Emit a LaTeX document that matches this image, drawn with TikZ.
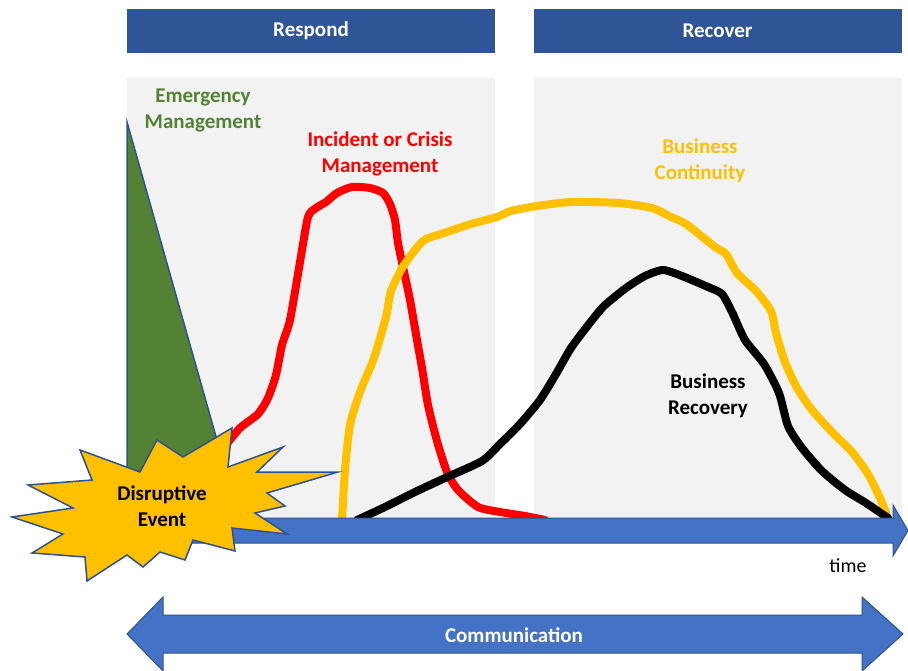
\documentclass[tikz,border=0pt]{standalone}
\usepackage{fontspec}
\setmainfont{Carlito}
\usetikzlibrary{positioning}

\definecolor{hdrblue}{HTML}{2F5597}
\definecolor{arrblue}{HTML}{4472C4}
\definecolor{edgeblue}{HTML}{2F528F}
\definecolor{panelgray}{HTML}{F2F2F2}
\definecolor{emgreen}{HTML}{548235}
\definecolor{bcyellow}{HTML}{FFC000}

\begin{document}
\begin{tikzpicture}
  [x=1pt,y=-1pt,every node/.style={font=\fontsize{21}{26}\selectfont\bfseries,align=center}]

  \tikzstyle{header} = [fill=hdrblue,text=white,minimum width=368pt,minimum height=44pt,inner sep=0pt]
  \tikzstyle{panel}  = [fill=panelgray,minimum width=368pt,minimum height=440pt,inner sep=0pt]
  \tikzstyle{curve}  = [line width=8pt,line join=round,line cap=round]
  \tikzstyle{arrow}  = [fill=arrblue,draw=edgeblue,line width=1pt,line join=miter]

  \useasboundingbox (0,0) rectangle (908,671);

  % phases
  \node[header] (respond) at (311,31) {Respond};
  \node[header] (recover) at (717.5,31) {Recover};
  \node[panel,below=25pt of respond] (respondbg) {};
  \node[panel,below=25pt of recover] (recoverbg) {};

  % emergency management
  \draw[fill=emgreen,draw=edgeblue,line width=1.5pt]
        (127,122) -- (239,518) -- (127,518) -- cycle;

  % the curves
  \draw[curve,red] plot[smooth,tension=0.4] coordinates {
        (226,445) (240,428) (258,414) (268,398) (276,375) (282,345)
        (290,320) (300,262) (308,217) (316,208) (326,202) (337,193)
        (352,187) (370,188) (383,193) (390,204) (395,220) (398,243)
        (403,267) (410,300) (417,340) (422,368) (428,405) (437,441)
        (447,472) (458,490) (478,507) (500,512) (525,516) (545,520)};
  \draw[curve,bcyellow] plot[smooth,tension=0.4] coordinates {
        (342,520) (345,470) (350,425) (360,392) (374,358) (386,317)
        (391,291) (404,265) (423,241) (441,234) (471,224) (497,217)
        (511,211) (537,206) (571,202) (619,203) (652,208) (671,217)
        (686,224) (715,247) (726,254) (737,273) (756,291) (771,311)
        (776,333) (785,362) (797,388) (812,410) (832,432) (852,452)
        (868,474) (880,498) (888,518)};
  \draw[curve,black] plot[smooth,tension=0.4] coordinates {
        (357,520) (385,507) (415,492) (445,478) (482,461) (500,444)
        (520,424) (540,400) (556,374) (571,348) (589,324) (604,306)
        (626,288) (645,276) (663,270) (682,276) (708,287) (722,294)
        (732,312) (745,340) (764,364) (779,393) (788,426) (802,448)
        (822,471) (845,490) (866,503) (888,518)};

  % time axis
  \draw[arrow] (150,518) -- (893,518) -- (893,505) -- (908,530.5)
        -- (893,556) -- (893,543) -- (150,543) -- cycle;

  % disruptive event
  \draw[fill=bcyellow,draw=edgeblue,line width=1.5pt,line join=miter]
        (12,517) -- (73,508) -- (28,485) -- (92,480) -- (80,450)
        -- (140,472) -- (157,440) -- (183,457) -- (232,428) -- (228,467)
        -- (283,447) -- (257,472) -- (338,472) -- (267,493) -- (285,506)
        -- (255,513) -- (287,534) -- (232,528) -- (235,551) -- (193,540)
        -- (185,560) -- (160,552) -- (143,567) -- (127,555) -- (87,581)
        -- (85,557) -- (32,553) -- (63,534) -- cycle;
  \node (event) at (162,506) {Disruptive\\Event};

  % communication
  \draw[arrow] (127,634) -- (163,597) -- (163,615) -- (862,615) -- (862,597)
        -- (903,634) -- (862,671) -- (862,653) -- (163,653) -- (163,671) -- cycle;
  \node[text=white] (comm) at (514,635) {Communication};

  % labels
  \node[text=emgreen]  (emlabel) at (203,110) {Emergency\\Management};
  \node[text=red]      (imlabel) at (380,154) {Incident or Crisis\\Management};
  \node[text=bcyellow] (bclabel) at (700,161) {Business\\Continuity};
  \node                (brlabel) at (708,396) {Business\\Recovery};
  \node[font=\fontsize{20}{24}\selectfont] (timelabel) at (848,566) {time};
\end{tikzpicture}
\end{document}
